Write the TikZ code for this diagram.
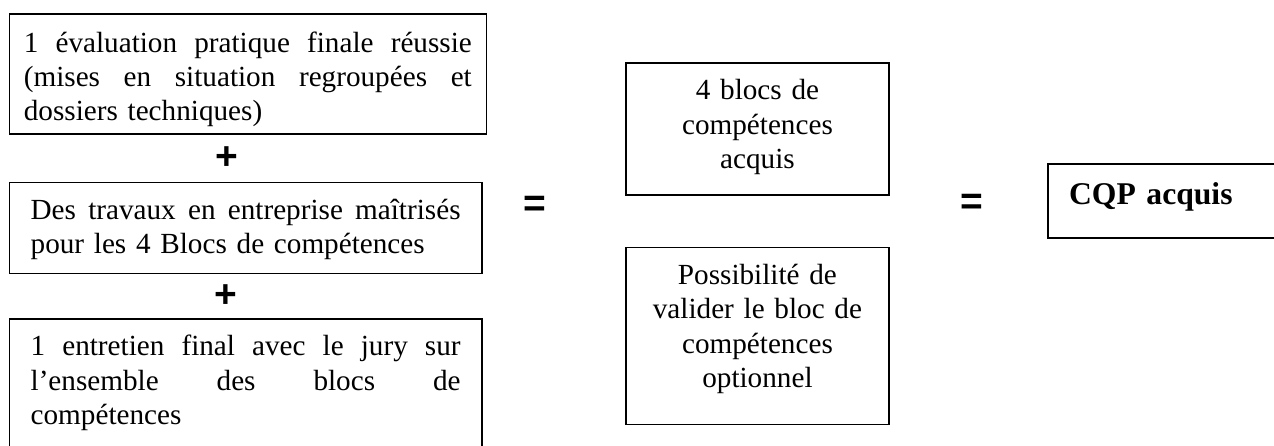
\documentclass[tikz,border=0pt]{standalone}
\usepackage{fontspec}
\setmainfont{Liberation Serif}
\newfontfamily\signfont{Liberation Sans}
\usetikzlibrary{positioning,calc}
% justified line of a box
\newcommand\ligne[2][176.7pt]{\makebox[#1][s]{\spaceskip=0.25em plus 1fil\relax
  \xspaceskip=0.25em plus 1fil\relax #2}}
\tikzset{
	epreuve/.style={
		rectangle,
		draw=black,
		line width=0.6pt,
		inner ysep=0pt,
		inner xsep=8.8pt,
		text width=176.7pt,
		align=left,
		text height=15.2pt,
		font=\fontsize{12pt}{14.1pt}\selectfont,
	},
	bloc/.style={
		rectangle,
		draw=black,
		line width=0.6pt,
		inner ysep=0pt,
		inner xsep=9pt,
		text width=90pt,
		align=center,
		text height=15.2pt,
		font=\fontsize{12pt}{14.1pt}\selectfont,
	},
	resultat/.style={
		rectangle,
		draw=black,
		line width=0.6pt,
		inner ysep=0pt,
		inner xsep=8.6pt,
		text width=130pt,
		align=left,
		text height=16.7pt,
		text depth=13.7pt,
		font=\fontsize{13pt}{15pt}\selectfont\bfseries,
	},
	signe/.style={
		inner sep=0pt,
		font=\signfont\fontsize{16pt}{16pt}\selectfont\bfseries,
	}
}

\begin{document}
\begin{tikzpicture}
	\useasboundingbox (0,0) rectangle (523.6pt,-182.9pt);
	\clip (0,0) rectangle (523.6pt,-182.9pt);

	\node [
	  epreuve,
	  anchor=north west,
	  text width=184.1pt,
	  inner xsep=6pt,
	  text height=15.6pt,
	  text depth=33.7pt
	] (e1) at (3.5pt,-5.5pt) {\ligne[184.1pt]{1 évaluation pratique finale réussie}\\
	  \ligne[184.1pt]{(mises en situation regroupées et}\\ dossiers techniques)};
	\node [
	  epreuve,
	  below=19.2pt of e1.south west,
	  anchor=north west,
	  text depth=22.2pt
	] (e2) {\ligne{Des travaux en entreprise maîtrisés}\\
	  pour les 4 Blocs de compétences};
	\node [
	  epreuve,
	  below=18.2pt of e2.south west,
	  anchor=north west,
	  text depth=42.3pt
	] (e3) {\ligne{1 entretien final avec le jury sur}\\
	  \ligne{l’ensemble des blocs de}\\ compétences};

	\node [signe] (p1) at ($(e1.south)!0.5!(e2.north)+(-8.2pt,0)$) {+};
	\node [signe] (p2) at ($(e2.south)!0.5!(e3.north)+(-8.2pt,0)$) {+};

	\node [
	  bloc,
	  right=56.8pt of e1.north east,
	  anchor=north west,
	  yshift=-20pt,
	  text depth=39.1pt
	] (b1) {4 blocs de\\ compétences\\ acquis};
	\node [
	  bloc,
	  below=21pt of b1,
	  text depth=57.5pt
	] (b2) {Possibilité de\\ valider le bloc de\\ compétences\\ optionnel};

	\node [
	  resultat,
	  right=64.9pt of b1.north east,
	  anchor=north west,
	  yshift=-41.6pt
	] (cqp) {CQP acquis};

	\node [signe] (eq1) at ($(e2.east)+(21.3pt,8.8pt)$) {=};
	\node [signe] (eq2) at ($(cqp.west)+(-31pt,-1.5pt)$) {=};
\end{tikzpicture}
\end{document}
